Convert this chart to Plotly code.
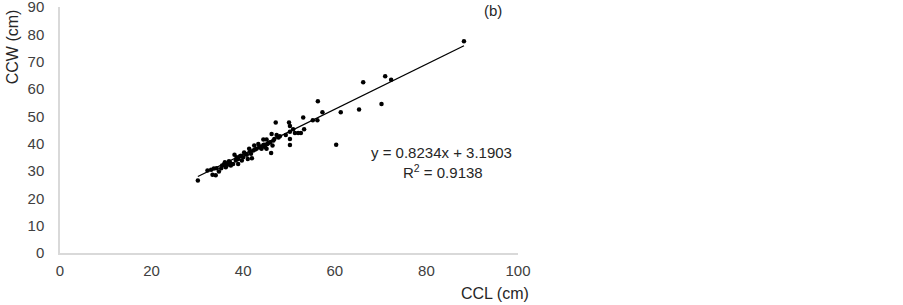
import plotly.graph_objects as go

# CCL (cm) values
ccl = [30.1, 32.2, 33.0, 33.3, 34.0, 34.2, 34.7, 35.2, 35.4, 36.0, 36.2, 36.6, 37.1, 37.3,
       37.8, 38.1, 38.4, 38.9, 38.9, 39.3, 39.7, 40.0, 40.2, 40.8, 41.0, 41.3, 41.7, 41.9,
       42.2, 42.4, 42.9, 43.3, 43.7, 44.0, 44.4, 44.4, 44.8, 45.1, 45.1, 45.3, 45.9, 46.1,
       46.2, 46.4, 46.8, 47.1, 47.3, 47.7, 49.3, 50.0, 50.2, 50.2, 50.2, 50.2, 50.9, 51.3,
       52.0, 52.6, 53.1, 53.3, 55.2, 56.2, 56.3, 57.3, 60.3, 61.3, 65.3, 66.2, 70.2, 71.0,
       72.3, 88.2,
       33.6, 35.8, 36.9, 38.6, 39.5, 40.5, 41.5, 42.6, 43.5, 44.6, 45.6, 46.6, 48.0]
# CCW (cm) values
ccw = [26.5, 30.2, 30.5, 28.6, 28.4, 31.0, 29.8, 31.0, 32.0, 33.2, 31.4, 32.3, 33.2, 32.0,
       32.6, 35.9, 33.8, 34.4, 32.6, 35.4, 33.8, 35.0, 36.8, 35.9, 34.4, 38.1, 36.3, 34.7,
       37.5, 39.3, 38.1, 39.9, 39.0, 38.1, 41.5, 39.5, 38.7, 41.5, 38.1, 39.9, 40.5, 36.6,
       43.5, 39.3, 41.7, 47.7, 43.2, 42.3, 43.2, 47.7, 46.5, 44.4, 41.7, 39.5, 45.3, 43.9,
       43.9, 43.9, 49.6, 45.3, 48.6, 48.6, 55.5, 51.5, 39.6, 51.5, 52.5, 62.5, 54.5, 64.7,
       63.4, 77.5,
       30.9, 32.4, 33.6, 35.0, 35.6, 36.2, 37.0, 37.9, 38.6, 39.6, 40.3, 41.2, 42.7]

slope = 0.8234
intercept = 3.1903
r_squared = 0.9138

x_ticks = [0, 20, 40, 60, 80, 100]
y_ticks = [0, 10, 20, 30, 40, 50, 60, 70, 80, 90]

fit_x = [min(ccl), max(ccl)]
fit_y = [slope * v + intercept for v in fit_x]

FONT = "Liberation Sans, Arial, sans-serif"

fig = go.Figure()
fig.add_trace(go.Scatter(x=fit_x, y=fit_y, mode="lines",
                         line=dict(color="black", width=1.3), showlegend=False,
                         hoverinfo="skip"))
fig.add_trace(go.Scatter(x=ccl, y=ccw, mode="markers",
                         marker=dict(color="black", size=4.5), showlegend=False))

fig.update_layout(
    width=903, height=305,
    margin=dict(l=60, r=385, t=7, b=52, autoexpand=False),
    paper_bgcolor="white", plot_bgcolor="white",
    font=dict(family=FONT, size=14, color="#404040"),
    xaxis=dict(range=[0, 100], tickvals=x_ticks, showgrid=False, zeroline=False,
               showline=True, linecolor="#d9d9d9", linewidth=1.5, ticks="",
               automargin=False, ticklabelstandoff=3, ticklabeloverflow="allow",
               tickfont=dict(size=15, color="#404040")),
    yaxis=dict(range=[0, 90], tickvals=y_ticks, showgrid=False, zeroline=False,
               showline=True, linecolor="#d9d9d9", linewidth=1.5, ticks="",
               automargin=False, ticklabelstandoff=11, ticklabeloverflow="allow",
               tickfont=dict(size=15, color="#404040")),
    annotations=[
        dict(text="CCW (cm)", xref="paper", yref="paper", x=-0.105, y=0.84,
             textangle=-90, showarrow=False, xanchor="center", yanchor="middle",
             font=dict(size=16, color="#262626")),
        dict(text="CCL (cm)", xref="paper", yref="paper", x=0.95, y=-0.166,
             showarrow=False, xanchor="center", yanchor="middle",
             font=dict(size=16, color="#262626")),
        dict(text="(b)", xref="paper", yref="paper", x=0.945, y=0.986,
             showarrow=False, xanchor="center", yanchor="middle",
             font=dict(size=15, color="#262626")),
        dict(text=f"y = {slope}x + {intercept}", xref="x", yref="y", x=83.4, y=36.7,
             showarrow=False, xanchor="center", yanchor="middle",
             font=dict(size=15, color="#262626")),
        dict(text=f"R<sup>2</sup> = {r_squared}", xref="x", yref="y", x=83.6, y=29.8,
             showarrow=False, xanchor="center", yanchor="middle",
             font=dict(size=15, color="#262626")),
    ],
)

fig.write_html("out.html", config={"displayModeBar": False},
               post_script="document.body.style.margin='0';")
